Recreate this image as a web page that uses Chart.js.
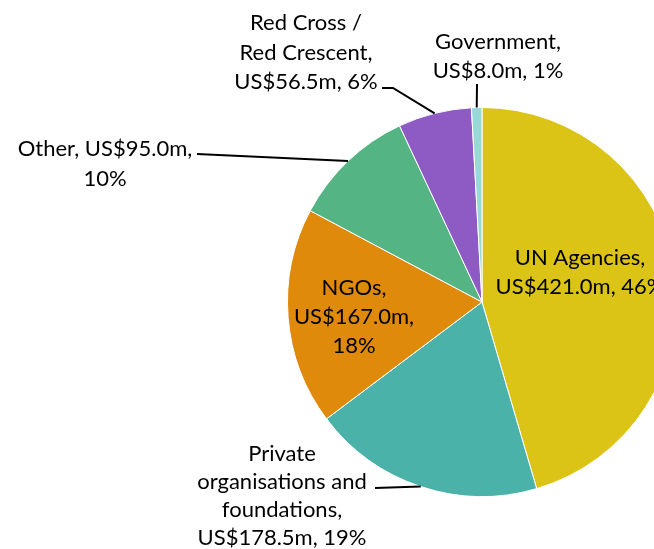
<!DOCTYPE html>
<html>
<head>
<meta charset="utf-8">
<script src="https://cdn.jsdelivr.net/npm/chart.js@4.4.1/dist/chart.umd.min.js"></script>
<style>
    html, body { margin: 0; padding: 0; background: #fff; overflow: hidden; }
    #wrap { position: absolute; left: 0; top: 0; width: 700px; height: 549px; }
</style>
</head>
<body>
<div id="wrap"><canvas id="pie" width="700" height="549"></canvas></div>
<script>
    // Data
    var categories = ["UN Agencies", "Private organisations and foundations", "NGOs", "Other", "Red Cross / Red Crescent", "Government"];
    var amounts = [421.0, 178.5, 167.0, 95.0, 56.5, 8.0];   // US$ millions
    var shares = [46, 19, 18, 10, 6, 1];                    // % as printed on the labels
    var colors = ["#DCC416", "#4BB2AA", "#DF8A0A", "#55B484", "#8E5BC5", "#98D8D6"];

    // Label layout: text lines ({v} = value, {p} = percent), centre x, first baseline, line step, leader line start
    var labelLayout = [
        { lines: ["UN Agencies,", "{v}, {p}"], x: 580, y: 265, step: 29 },
        { lines: ["Private", "organisations and", "foundations,", "{v}, {p}"], x: 282, y: 461, step: 28, leader: [[375, 488]] },
        { lines: ["NGOs,", "{v},", "{p}"], x: 354, y: 295, step: 29 },
        { lines: ["Other, {v},", "{p}"], x: 105, y: 156, step: 29.5, leader: [[197, 154]] },
        { lines: ["Red Cross /", "Red Crescent,", "{v}, {p}"], x: 306, y: 30, step: 29.5, leader: [[382, 88], [393, 88]] },
        { lines: ["Government,", "{v}, {p}"], x: 498, y: 49, step: 29, leader: [[477, 84]] }
    ];

    var pieLabels = {
        id: "pieLabels",
        afterDatasetsDraw: function (chart) {
            var ctx = chart.ctx;
            var arcs = chart.getDatasetMeta(0).data;
            ctx.save();
            // leader lines
            ctx.strokeStyle = "#000";
            ctx.lineWidth = 2;
            labelLayout.forEach(function (lay, i) {
                if (!lay.leader) return;
                var a = arcs[i];
                var mid = (a.startAngle + a.endAngle) / 2;
                ctx.beginPath();
                ctx.moveTo(lay.leader[0][0], lay.leader[0][1]);
                for (var k = 1; k < lay.leader.length; k++) {
                    ctx.lineTo(lay.leader[k][0], lay.leader[k][1]);
                }
                ctx.lineTo(a.x + Math.cos(mid) * a.outerRadius, a.y + Math.sin(mid) * a.outerRadius);
                ctx.stroke();
            });
            // text
            ctx.fillStyle = "#000";
            ctx.font = "22px 'Lato', 'Liberation Sans', sans-serif";
            ctx.textAlign = "center";
            ctx.textBaseline = "alphabetic";
            labelLayout.forEach(function (lay, i) {
                var v = "US$" + amounts[i].toFixed(1) + "m";
                var p = shares[i] + "%";
                lay.lines.forEach(function (t, j) {
                    var txt = t.replace("{v}", v).replace("{p}", p);
                    ctx.fillText(txt, lay.x, lay.y + j * lay.step);
                });
            });
            ctx.restore();
        }
    };

    var ctx1 = document.getElementById("pie").getContext("2d");
    var myPie = new Chart(ctx1, {
        type: "pie",
        data: {
            labels: categories,
            datasets: [{
                data: amounts,
                backgroundColor: colors,
                borderColor: "#ffffff",
                borderWidth: 1
            }]
        },
        options: {
            responsive: false,
            animation: false,
            layout: { padding: { left: 287, right: 23, top: 107, bottom: 52 } },
            plugins: {
                legend: { display: false },
                tooltip: { enabled: false }
            }
        },
        plugins: [pieLabels]
    });
</script>
</body>
</html>
